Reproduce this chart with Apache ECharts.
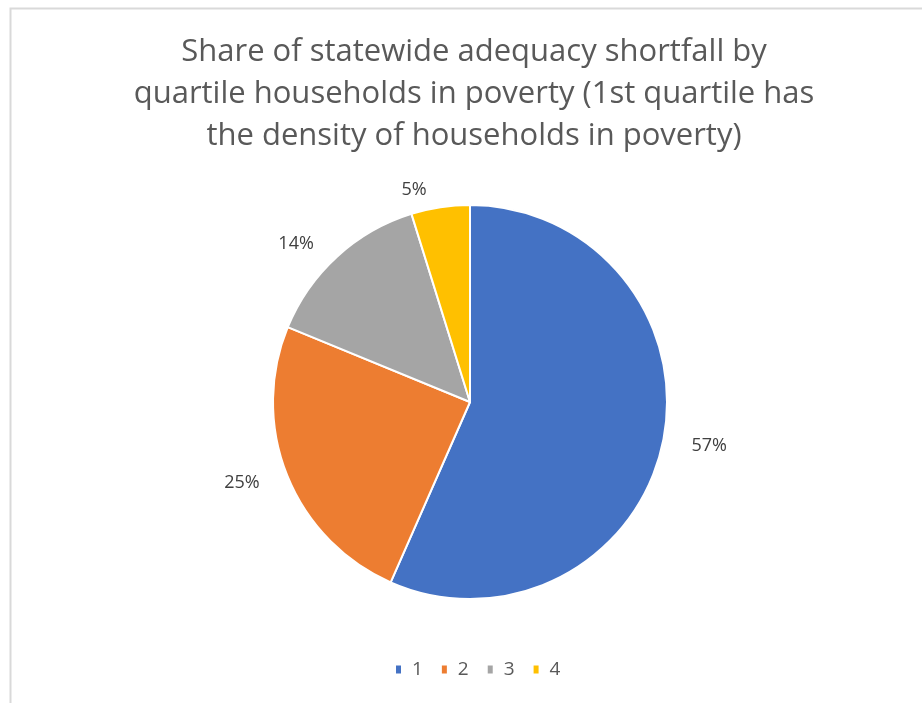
<!DOCTYPE html>
<html>
<head>
<meta charset="utf-8">
<script src="https://cdn.jsdelivr.net/npm/echarts@6/dist/echarts.min.js"></script>
<style>
  html, body { margin: 0; padding: 0; background: #fff; }
  #chart { width: 922px; height: 703px; }
</style>
</head>
<body>
<div id="chart"></div>
<script>
const titleText = 'Share of statewide adequacy shortfall by\nquartile households in poverty (1st quartile has\nthe density of households in poverty)'
const quartiles = ['1', '2', '3', '4']
const shares = [56.6, 24.6, 14.0, 4.8]
const colors = ['#4472C4', '#ED7D31', '#A5A5A5', '#FFC000']

const chart = echarts.init(document.getElementById('chart'))

const option = {
  backgroundColor: '#fff',
  animation: false,
  color: colors,
  title: {
    text: titleText,
    left: 469,
    textAlign: 'center',
    top: 26,
    textStyle: {
      fontFamily: 'Open Sans',
      fontWeight: 'normal',
      fontSize: 31,
      lineHeight: 42,
      color: '#595959'
    }
  },
  legend: {
    data: quartiles,
    top: 655,
    left: 389,
    icon: 'rect',
    itemWidth: 7,
    itemHeight: 10,
    itemGap: 17,
    textStyle: { fontFamily: 'Open Sans', fontSize: 19, color: '#595959', padding: [0, 0, 0, 5] }
  },
  // frame of the original chart area
  graphic: [{
    type: 'polyline',
    shape: { points: [[10.5, 703], [10.5, 8.5], [922, 8.5]] },
    style: { stroke: '#d9d9d9', lineWidth: 2, fill: null }
  }],
  series: [{
    type: 'pie',
    center: [470, 402],
    radius: 197,
    startAngle: 90,
    clockwise: true,
    itemStyle: { borderColor: '#fff', borderWidth: 2 },
    label: {
      show: true,
      position: 'outside',
      formatter: p => Math.round(p.value) + '%',
      fontFamily: 'Open Sans',
      fontSize: 18,
      color: '#404040'
    },
    labelLine: { show: false, length: 18, length2: 6 },
    data: quartiles.map((q, i) => ({ name: q, value: shares[i] }))
  }]
}

chart.setOption(option)
</script>
</body>
</html>
